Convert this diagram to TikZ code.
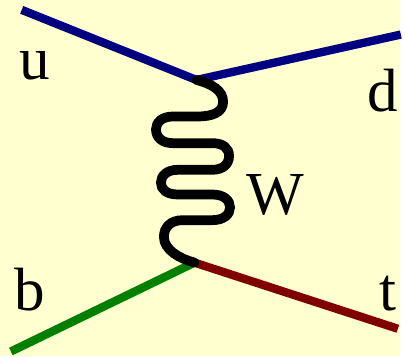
\documentclass[tikz,border=0pt]{standalone}
\usepackage{fontspec}
\setmainfont{Liberation Serif}
\definecolor{paper}{RGB}{255,255,208}
\definecolor{quarkblue}{RGB}{0,0,128}
\definecolor{quarkgreen}{RGB}{0,128,0}
\definecolor{quarkred}{RGB}{128,0,0}
\newcommand{\biglabel}[3]{
    \node[anchor=base west,inner sep=0pt,font=\fontsize{44}{48}\selectfont] (#1) at (#2) {#3};
}
\begin{document}
\begin{tikzpicture}[x=0.025cm,y=-0.025cm,
    fermion/.style={line width=6pt,line join=miter},
    boson/.style={line width=7pt,black,line cap=round}]
        \fill[paper] (0,0) rectangle (405,361);
        \coordinate (top) at (199,81);
        \coordinate (bot) at (197,266);
        \coordinate (uin) at (22,10);
        \coordinate (dout) at (406,35);
        \coordinate (bin) at (11,356);
        \coordinate (tout) at (403,333);
        \draw[fermion,quarkblue] (uin) -- (top) -- (dout);
        \draw[fermion,quarkgreen] (bin) -- (bot);
        \draw[fermion,quarkred] (bot) -- (tout);
        \draw[boson] (top)
        .. controls (215,85) and (226,92) .. (226,103)
        .. controls (226,114) and (215,118) .. (200,118)
        -- (175,118)
        .. controls (164,118) and (158,124) .. (158,131)
        .. controls (158,139) and (164,145) .. (175,145)
        -- (215,145)
        .. controls (226,145) and (232,150) .. (232,158)
        .. controls (232,166) and (226,172) .. (215,172)
        -- (180,172)
        .. controls (169,172) and (163,178) .. (163,185)
        .. controls (163,192) and (169,197) .. (180,197)
        -- (215,197)
        .. controls (227,197) and (233,203) .. (233,210)
        .. controls (233,217) and (227,223) .. (215,223)
        -- (185,223)
        .. controls (172,223) and (166,231) .. (166,240)
        .. controls (166,253) and (182,262) .. (bot);
        \biglabel{lu}{19,81}{u}
        \biglabel{ld}{372,113}{d}
        \biglabel{lw}{249,217}{W}
        \biglabel{lb}{14,315}{b}
        \biglabel{lt}{384,315}{t}
    \end{tikzpicture}
\end{document}
